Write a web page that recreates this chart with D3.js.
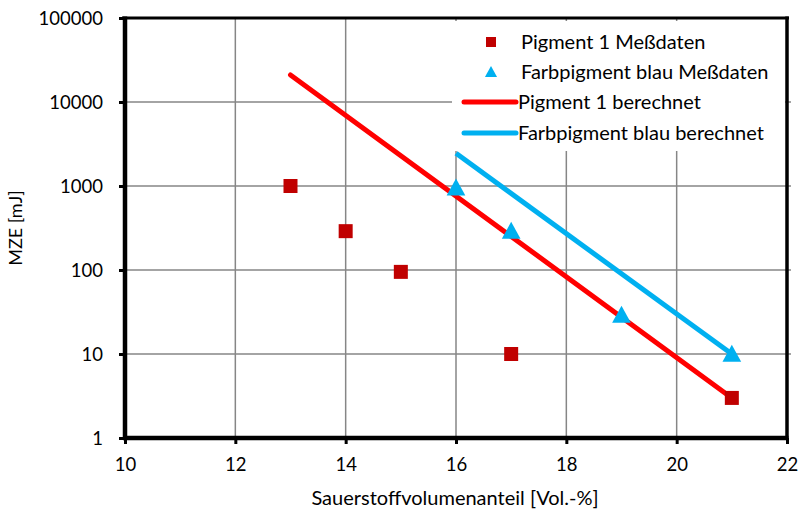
<!DOCTYPE html>
<html><head><meta charset="utf-8">
<script src="https://cdn.jsdelivr.net/npm/d3@7"></script>
<style>body{margin:0;background:#fff}svg{display:block}text{font-family:Lato,"Open Sans",sans-serif;fill:#000}</style>
</head><body>
<svg id="c" width="798" height="511"></svg>
<script>
const xTicks = [10, 12, 14, 16, 18, 20, 22];
const yTicks = [1, 10, 100, 1000, 10000, 100000];
const pigment1X = [13, 14, 15, 17, 21];
const pigment1Y = [1000, 290, 95, 10, 3];
const blauX = [16, 17, 19, 21];
const blauY = [950, 290, 29, 10];
const pigment1CalcX = [13, 21];
const pigment1CalcY = [21000, 3];
const blauCalcX = [16, 21];
const blauCalcY = [2450, 10];
const legendLabels = ["Pigment 1 Meßdaten", "Farbpigment blau Meßdaten", "Pigment 1 berechnet", "Farbpigment blau berechnet"];
const xTitle = "Sauerstoffvolumenanteil [Vol.-%]";
const yTitle = "MZE [mJ]";

const L = 125, R = 787, T = 18, B = 438;
const svg = d3.select("#c");
const x = d3.scaleLinear().domain([10, 22]).range([L, R]);
const y = d3.scaleLog().domain([1, 100000]).range([B, T]);
const fsTick = 18.5, fsLeg = 20, fsTitle = 20;

// grid
svg.append("g").selectAll("line").data(xTicks.slice(1, -1)).join("line")
  .attr("x1", d => x(d)).attr("x2", d => x(d)).attr("y1", T).attr("y2", B)
  .attr("stroke", "#868686").attr("stroke-width", 1.5);
svg.append("g").selectAll("line").data(yTicks.slice(1, -1)).join("line")
  .attr("x1", L).attr("x2", R + 4).attr("y1", d => y(d)).attr("y2", d => y(d))
  .attr("stroke", "#868686").attr("stroke-width", 1.5);

// axes
const xAxis = d3.axisBottom(x).tickValues(xTicks).tickFormat(d3.format("d")).tickSize(6).tickPadding(14);
const yAxis = d3.axisLeft(y).tickValues(yTicks).tickFormat(d3.format("d")).tickSize(6).tickPadding(16);
const gx = svg.append("g").attr("transform", `translate(0,${B})`).call(xAxis);
const gy = svg.append("g").attr("transform", `translate(${L},0)`).call(yAxis);
[gx, gy].forEach(g => {
  g.select(".domain").remove();
  g.selectAll(".tick line").attr("stroke", "#000").attr("stroke-width", 3);
  g.selectAll(".tick text").attr("font-size", fsTick).attr("font-family", "Lato");
});
gy.selectAll(".tick text").attr("dy", "0.36em");

// frame
svg.append("line").attr("x1", L - 3).attr("x2", R + 2).attr("y1", T).attr("y2", T).attr("stroke", "#000").attr("stroke-width", 3);
svg.append("line").attr("x1", R).attr("x2", R).attr("y1", T - 1.5).attr("y2", B + 2).attr("stroke", "#000").attr("stroke-width", 3.5);
svg.append("line").attr("x1", L).attr("x2", L).attr("y1", T - 1.5).attr("y2", B + 2).attr("stroke", "#000").attr("stroke-width", 4.5);
svg.append("line").attr("x1", L - 2).attr("x2", R + 1.5).attr("y1", B).attr("y2", B).attr("stroke", "#000").attr("stroke-width", 4.5);

// legend background
svg.append("rect").attr("x", 452).attr("y", 21).attr("width", R - 452 - 2).attr("height", 130).attr("fill", "#fff");

// calculated lines
const lineGen = d3.line().x(d => x(d[0])).y(d => y(d[1]));
svg.append("path").datum(pigment1CalcX.map((v, i) => [v, pigment1CalcY[i]]))
  .attr("d", lineGen).attr("fill", "none").attr("stroke", "#FF0000").attr("stroke-width", 5).attr("stroke-linecap", "round");
svg.append("path").datum(blauCalcX.map((v, i) => [v, blauCalcY[i]]))
  .attr("d", lineGen).attr("fill", "none").attr("stroke", "#00B0F0").attr("stroke-width", 5).attr("stroke-linecap", "butt");

// markers
const tri = (s) => `M0,${-s * 0.55}L${s * 0.55},${s * 0.45}L${-s * 0.55},${s * 0.45}Z`;
svg.append("g").selectAll("path").data(blauX.map((v, i) => [v, blauY[i]])).join("path")
  .attr("d", tri(17)).attr("transform", d => `translate(${x(d[0])},${y(d[1])})`).attr("fill", "#00B0F0");
svg.append("g").selectAll("rect").data(pigment1X.map((v, i) => [v, pigment1Y[i]])).join("rect")
  .attr("x", d => x(d[0]) - 7).attr("y", d => y(d[1]) - 7).attr("width", 14).attr("height", 14).attr("fill", "#C00000");

// legend
const ly = [42, 72, 102, 133];
const lg = svg.append("g");
lg.append("rect").attr("x", 491 - 5).attr("y", ly[0] - 5).attr("width", 10).attr("height", 10).attr("fill", "#C00000");
lg.append("path").attr("d", tri(11)).attr("transform", `translate(491,${ly[1]})`).attr("fill", "#00B0F0");
lg.append("line").attr("x1", 464).attr("x2", 516).attr("y1", ly[2]).attr("y2", ly[2]).attr("stroke", "#FF0000").attr("stroke-width", 5).attr("stroke-linecap", "round");
lg.append("line").attr("x1", 464).attr("x2", 516).attr("y1", ly[3]).attr("y2", ly[3]).attr("stroke", "#00B0F0").attr("stroke-width", 5).attr("stroke-linecap", "round");
lg.selectAll("text").data(legendLabels).join("text")
  .attr("x", (d, i) => i < 2 ? 521 : 518).attr("y", (d, i) => ly[i]).attr("dy", "0.36em")
  .attr("font-size", fsLeg).text(d => d);

// titles
svg.append("text").attr("x", (L + R) / 2 - 1).attr("y", 505).attr("text-anchor", "middle").attr("font-size", fsTitle).text(xTitle);
svg.append("text").attr("transform", `translate(22,228) rotate(-90)`).attr("text-anchor", "middle").attr("font-size", 18).text(yTitle);
</script>
</body></html>
